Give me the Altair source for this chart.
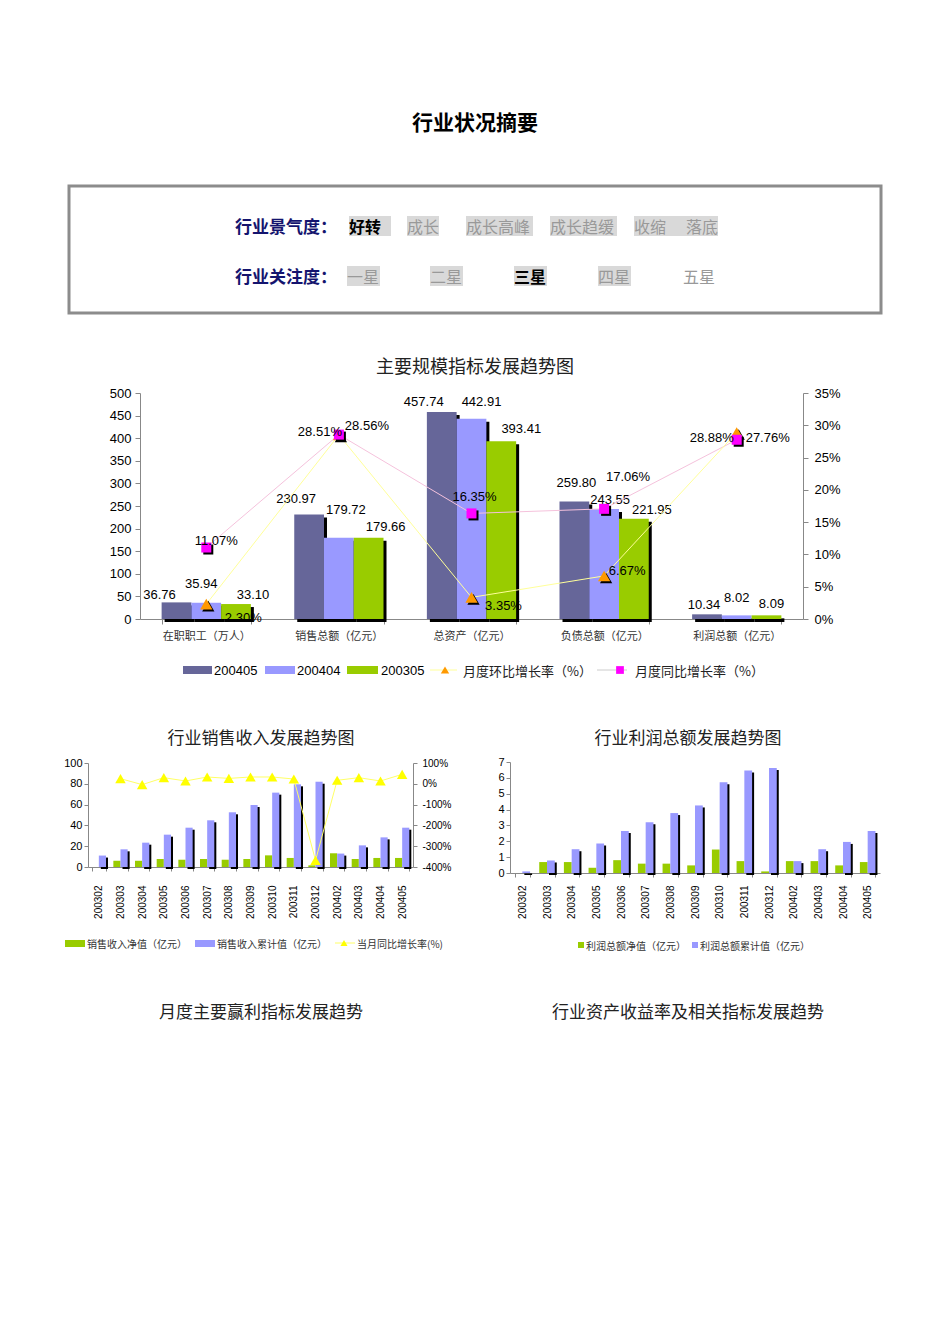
import altair as alt
import pandas as pd

CJK = "Noto Sans CJK SC"
LAT = "Liberation Sans"

# ---------------- data ----------------
page_title = "行业状况摘要"
climate_label = "行业景气度："
climate_items = ["好转", "成长", "成长高峰", "成长趋缓", "收缩", "落底"]
climate_current = "好转"
attention_label = "行业关注度："
attention_items = ["一星", "二星", "三星", "四星", "五星"]
attention_current = "三星"

main_title = "主要规模指标发展趋势图"
main_cats = ["在职职工（万人）", "销售总额（亿元）", "总资产（亿元）", "负债总额（亿元）", "利润总额（亿元）"]
main_series = ["200405", "200404", "200305"]
val_200405 = [36.76, 230.97, 457.74, 259.80, 10.34]
val_200404 = [35.94, 179.72, 442.91, 243.55, 8.02]
val_200305 = [33.10, 179.66, 393.41, 221.95, 8.09]
mom_rate = [2.30, 28.51, 3.35, 6.67, 28.88]    # 月度环比增长率（%）
yoy_rate = [11.07, 28.56, 16.35, 17.06, 27.76]  # 月度同比增长率（%）
main_left_ticks = [0, 50, 100, 150, 200, 250, 300, 350, 400, 450, 500]
main_right_ticks = [0, 5, 10, 15, 20, 25, 30, 35]
main_legend = ["200405", "200404", "200305", "月度环比增长率（%）", "月度同比增长率（%）"]

months = ["200302", "200303", "200304", "200305", "200306", "200307", "200308",
          "200309", "200310", "200311", "200312", "200402", "200403", "200404", "200405"]
sales_title = "行业销售收入发展趋势图"
sales_net = [None, 6.0, 6.0, 7.7, 7.0, 7.7, 7.0, 7.7, 11.2, 8.7, 1.6, 13.2, 7.7, 8.7, 8.7]
sales_cum = [11.0, 17.0, 23.4, 31.1, 37.8, 44.9, 52.6, 59.6, 71.5, 79.5, 82.0, 12.9, 20.8, 28.5, 37.8]
sales_yoy = [None, 24.7, -4.0, 29.5, 13.5, 32.7, 26.0, 32.7, 32.7, 23.0, -368.0, 16.7, 29.5, 13.5, 45.5]
sales_left_ticks = [0, 20, 40, 60, 80, 100]
sales_right_ticks = [-400, -300, -200, -100, 0, 100]
sales_legend = ["销售收入净值（亿元）", "销售收入累计值（亿元）", "当月同比增长率(%)"]

profit_title = "行业利润总额发展趋势图"
profit_net = [None, 0.69, 0.69, 0.33, 0.81, 0.59, 0.59, 0.48, 1.48, 0.75, 0.10, 0.75, 0.75, 0.48, 0.69]
profit_cum = [0.10, 0.79, 1.50, 1.86, 2.65, 3.20, 3.78, 4.26, 5.72, 6.46, 6.62, 0.75, 1.50, 1.96, 2.65]
profit_ticks = [0, 1, 2, 3, 4, 5, 6, 7]
profit_legend = ["利润总额净值（亿元）", "利润总额累计值（亿元）"]

footer_titles = ["月度主要赢利指标发展趋势", "行业资产收益率及相关指标发展趋势"]

# ---------------- styles (label nudges, colours, layout) ----------------
bar_label_dx = [-17, -13, -18, 2, -3, -5, 7, 10, 6, 0, 17, 17, 20, 18, 5]
bar_label_dy = [-7, -16, -10, -19, -9, -19, -28, -17, -9, -17, -9, -11, -12, -9, -11]
rate_label_dx = [37, -19, 32, 23, -25, 10, 28, 3, 24, 31]
rate_label_dy = [14, -3, 9, -5, 5, -7, -9, -16, -32, -2]
BAR_COLORS = ["#666699", "#9999FF", "#99CC00"]
GREEN, BLUE = "#99CC00", "#9999FF"
ORANGE, MAGENTA = "#FF9900", "#FF00FF"
AXIS_GREY = "#888888"

W, H = 934, 1328           # whole page (inside the 8px body margin)
RB, RC, RD = 337, 692, 967  # top of the main chart, small charts, footer
ONE = pd.DataFrame({"k": [0]})


def text_at(s, x, y, size=12, color="#000000", weight="normal", font=CJK, align="center"):
    nudge = 2 if font == CJK else 1
    return alt.Chart(pd.DataFrame({"t": [s]})).mark_text(
        font=font, fontSize=size, color=color, fontWeight=weight, align=align, baseline="middle"
    ).encode(x=alt.value(x), y=alt.value(y + nudge), text="t:N")


def rect_at(x1, x2, y1, y2, fill, stroke=None, sw=0):
    kw = dict(fill=fill)
    if stroke:
        kw.update(stroke=stroke, strokeWidth=sw)
    return alt.Chart(ONE).mark_rect(**kw).encode(
        x=alt.value(x1), x2=alt.value(x2), y=alt.value(y1), y2=alt.value(y2))


def rule_at(x1, x2, y, color, width=1):
    return alt.Chart(ONE).mark_rule(color=color, strokeWidth=width).encode(
        x=alt.value(x1), x2=alt.value(x2), y=alt.value(y))


def point_at(x, y, shape, size, color):
    return alt.Chart(ONE).mark_point(shape=shape, size=size, filled=True, color=color, opacity=1).encode(
        x=alt.value(x), y=alt.value(y))


layers = []

# ================= header =================
clim_bg = [(341, 383), (399, 431), (458, 525), (542, 609), (626, 710)]
clim_x = [341, 399, 458, 542, 626, 678]
att_bg = [(339, 372), (422, 455), (506, 539), (590, 623)]
att_x = [339, 422, 506, 590, 675]

layers += [
    text_at(page_title, 467, 114, size=21, weight="bold"),
    rect_at(61, 873, 178, 305, "#FFFFFF", stroke="#8C8C8C", sw=3),
    text_at(climate_label, 227, 218, size=17, weight="bold", color="#14146E", align="left"),
    text_at(attention_label, 227, 268, size=17, weight="bold", color="#14146E", align="left"),
]
for (x1, x2) in clim_bg:
    layers.append(rect_at(x1, x2, 208, 228, "#D9D9D9"))
for (x1, x2) in att_bg:
    layers.append(rect_at(x1, x2, 258, 278, "#D9D9D9"))
for s, x in zip(climate_items, clim_x):
    cur = s == climate_current
    layers.append(text_at(s, x, 218, size=16, align="left",
                          color="#000000" if cur else "#999999", weight="bold" if cur else "normal"))
for s, x in zip(attention_items, att_x):
    cur = s == attention_current
    layers.append(text_at(s, x, 268, size=16, align="left",
                          color="#000000" if cur else "#999999", weight="bold" if cur else "normal"))

# ================= main chart =================
bars_df = pd.DataFrame({
    "cat": main_cats * 3,
    "series": [s for s in main_series for _ in main_cats],
    "value": val_200405 + val_200404 + val_200305,
})
bars_df["label"] = bars_df["value"].map(lambda v: f"{v:.2f}")
bars_df["dx"] = bar_label_dx
bars_df["dy"] = bar_label_dy

rates_df = pd.DataFrame({
    "cat": main_cats * 2,
    "idx": list(range(5)) * 2,
    "kind": ["mom"] * 5 + ["yoy"] * 5,
    "rate": mom_rate + yoy_rate,
})
rates_df["label"] = rates_df["rate"].map(lambda v: f"{v:.2f}%")
rates_df["dx"] = rate_label_dx
rates_df["dy"] = rate_label_dy
mom_df = rates_df[rates_df["kind"] == "mom"]
yoy_df = rates_df[rates_df["kind"] == "yoy"]

MB0, MB1 = RB + 274, RB + 48   # main plot bottom / top


def main_x(shift=0, axis=None):
    return alt.X("cat:N", scale=alt.Scale(domain=main_cats, range=[132 + shift, 795 + shift],
                                          paddingInner=0.327, paddingOuter=0.163), axis=axis)


def main_xoff():
    return alt.XOffset("series:N", scale=alt.Scale(domain=main_series))


def main_y(shift=0, axis=None):
    return alt.Y("value:Q", scale=alt.Scale(domain=[0, 500], range=[MB0 + shift, MB1 + shift], nice=False),
                 axis=axis)


def pct_y(shift=0, axis=None):
    return alt.Y("rate:Q", scale=alt.Scale(domain=[0, 35], range=[MB0 + shift, MB1 + shift], nice=False),
                 axis=axis)


x_axis_main = alt.Axis(title=None, orient="bottom", offset=MB0 - H, labelFont=CJK, labelFontSize=11,
                       labelColor="#333333", domainColor=AXIS_GREY, tickColor=AXIS_GREY, tickSize=5,
                       tickBand="extent", labelPadding=6, labelAngle=0, grid=False)
y_axis_main = alt.Axis(title=None, orient="left", offset=-132, values=main_left_ticks, labelFont=LAT,
                       labelFontSize=13, labelColor="#000000", domainColor=AXIS_GREY, tickColor=AXIS_GREY,
                       tickSize=5, labelPadding=4, grid=False)
y_axis_pct = alt.Axis(title=None, orient="right", offset=795 - W, values=main_right_ticks, labelFont=LAT,
                      labelFontSize=13, labelColor="#000000", domainColor=AXIS_GREY, tickColor=AXIS_GREY,
                      tickSize=5, labelPadding=6, grid=False, labelExpr="datum.value + '%'")

layers += [
    alt.Chart(bars_df).mark_bar(color="#000000").encode(
        x=main_x(3), xOffset=main_xoff(), y=main_y(3), y2=alt.value(MB0)),
    alt.Chart(bars_df).mark_bar().encode(
        x=main_x(0, x_axis_main), xOffset=main_xoff(), y=main_y(0, y_axis_main),
        color=alt.Color("series:N", scale=alt.Scale(domain=main_series, range=BAR_COLORS), legend=None)),
    alt.Chart(bars_df).mark_text(font=LAT, fontSize=13, color="#000000",
                                 dx=alt.ExprRef(expr="datum.dx"), dy=alt.ExprRef(expr="datum.dy")).encode(
        x=main_x(), xOffset=main_xoff(), y=main_y(), text="label:N"),
    alt.Chart(yoy_df).mark_line(color="#F5C2DC", strokeWidth=1).encode(
        x=main_x(), y=pct_y(0, y_axis_pct), order="idx:Q"),
    alt.Chart(mom_df).mark_line(color="#FFFF99", strokeWidth=1).encode(
        x=main_x(), y=pct_y(), order="idx:Q"),
    alt.Chart(mom_df).mark_point(shape="triangle-up", size=150, filled=True, color="#000000", opacity=1).encode(
        x=main_x(2), y=pct_y(2)),
    alt.Chart(mom_df).mark_point(shape="triangle-up", size=150, filled=True, color=ORANGE, opacity=1).encode(
        x=main_x(), y=pct_y()),
    alt.Chart(yoy_df).mark_point(shape="square", size=100, filled=True, color="#000000", opacity=1).encode(
        x=main_x(2), y=pct_y(2)),
    alt.Chart(yoy_df).mark_point(shape="square", size=100, filled=True, color=MAGENTA, opacity=1).encode(
        x=main_x(), y=pct_y()),
    alt.Chart(rates_df).mark_text(font=LAT, fontSize=13, color="#000000",
                                  dx=alt.ExprRef(expr="datum.dx"), dy=alt.ExprRef(expr="datum.dy")).encode(
        x=main_x(), y=pct_y(), text="label:N"),
    text_at(main_title, 467, RB + 21, size=18, color="#222222"),
]
LY = RB + 325
sw_x = [(175, 204), (257, 287), (339, 370)]
txt_x = [206, 289, 373]
for i in range(3):
    layers.append(rect_at(sw_x[i][0], sw_x[i][1], LY - 4, LY + 4, BAR_COLORS[i]))
    layers.append(text_at(main_legend[i], txt_x[i], LY, size=13, font=LAT, align="left"))
layers += [
    rule_at(422, 449, LY, "#FFFF99", 1),
    point_at(437, LY, "triangle-up", 70, ORANGE),
    text_at(main_legend[3], 455, LY, size=13, align="left", color="#222222"),
    rule_at(589, 619, LY, "#CCCCCC", 1),
    point_at(612, LY, "square", 60, MAGENTA),
    text_at(main_legend[4], 627, LY, size=13, align="left", color="#222222"),
]

# ================= small charts =================
kinds = ["net", "cum"]
sales_df = pd.DataFrame({
    "month": months * 2,
    "kind": ["net"] * len(months) + ["cum"] * len(months),
    "value": sales_net + sales_cum,
}).dropna()
sales_rate = pd.DataFrame({"month": months, "idx": list(range(len(months))), "rate": sales_yoy}).dropna()
profit_df = pd.DataFrame({
    "month": months * 2,
    "kind": ["net"] * len(months) + ["cum"] * len(months),
    "value": profit_net + profit_cum,
}).dropna()


def small_x(r0, r1, pi, po, shift=0, axis=None):
    return alt.X("month:N", scale=alt.Scale(domain=months, range=[r0 + shift, r1 + shift],
                                            paddingInner=pi, paddingOuter=po), axis=axis)


def small_xoff():
    return alt.XOffset("kind:N", scale=alt.Scale(domain=kinds))


def small_y(dom, rng, shift=0, axis=None, field="value"):
    return alt.Y(f"{field}:Q", scale=alt.Scale(domain=dom, range=[rng[0] + shift, rng[1] + shift], nice=False),
                 axis=axis)


bar_colors_small = alt.Color("kind:N", scale=alt.Scale(domain=kinds, range=[GREEN, BLUE]), legend=None)

SB0, SB1 = RC + 167, RC + 63
PB0, PB1 = RC + 173, RC + 62
S_X = (80, 405, 0.34, 0.17)
S_Y = ([0, 100], (SB0, SB1))
S_R = ([-400, 100], (SB0, SB1))
P_X = (502, 872, 0.37, 0.185)
P_Y = ([0, 7], (PB0, PB1))

s_xaxis = alt.Axis(title=None, orient="bottom", offset=SB0 - H, labelAngle=-90, labelFont=LAT, labelFontSize=10,
                   labelColor="#000000", domainColor=AXIS_GREY, tickColor=AXIS_GREY, tickSize=4,
                   tickBand="extent", labelPadding=14, grid=False)
s_yaxis = alt.Axis(title=None, orient="left", offset=-80, values=sales_left_ticks, labelFont=LAT,
                   labelFontSize=11, labelColor="#000000", domainColor=AXIS_GREY, tickColor=AXIS_GREY,
                   tickSize=4, labelPadding=2, grid=False)
s_raxis = alt.Axis(title=None, orient="right", offset=405 - W, values=sales_right_ticks, labelFont=LAT,
                   labelFontSize=10, labelColor="#000000", domainColor=AXIS_GREY, tickColor=AXIS_GREY,
                   tickSize=4, labelPadding=5, grid=False, labelExpr="datum.value + '%'")
p_xaxis = alt.Axis(title=None, orient="bottom", offset=PB0 - H, labelAngle=-90, labelFont=LAT, labelFontSize=10,
                   labelColor="#000000", domainColor=AXIS_GREY, tickColor=AXIS_GREY, tickSize=4,
                   tickBand="extent", labelPadding=8, grid=False)
p_yaxis = alt.Axis(title=None, orient="left", offset=-502, values=profit_ticks, labelFont=LAT,
                   labelFontSize=11, labelColor="#000000", domainColor=AXIS_GREY, tickColor=AXIS_GREY,
                   tickSize=4, labelPadding=2, grid=False)

SL = RC + 243
PL = RC + 245
layers += [
    # sales
    alt.Chart(sales_df[sales_df["kind"] == "cum"]).mark_bar(color="#000000").encode(
        x=small_x(*S_X, shift=2), xOffset=small_xoff(), y=small_y(*S_Y, shift=2), y2=alt.value(SB0)),
    alt.Chart(sales_df).mark_bar().encode(
        x=small_x(*S_X, axis=s_xaxis), xOffset=small_xoff(), y=small_y(*S_Y, axis=s_yaxis),
        color=bar_colors_small),
    alt.Chart(sales_rate).mark_line(color="#FFFF66", strokeWidth=1).encode(
        x=small_x(*S_X), y=small_y(*S_R, axis=s_raxis, field="rate"), order="idx:Q"),
    alt.Chart(sales_rate).mark_point(shape="triangle-up", size=110, filled=True, color="#FFFF00", opacity=1).encode(
        x=small_x(*S_X), y=small_y(*S_R, field="rate")),
    text_at(sales_title, 253, RC + 37, size=17, color="#222222"),
    rect_at(57, 77, SL - 3, SL + 4, GREEN),
    text_at(sales_legend[0], 79, SL, size=10, align="left", color="#333333"),
    rect_at(187, 207, SL - 3, SL + 4, BLUE),
    text_at(sales_legend[1], 209, SL, size=10, align="left", color="#333333"),
    rule_at(327, 347, SL, "#FFFF66", 1),
    point_at(336, SL, "triangle-up", 50, "#FFFF00"),
    text_at(sales_legend[2], 349, SL, size=10, align="left", color="#333333"),
    # profit
    alt.Chart(profit_df[profit_df["kind"] == "cum"]).mark_bar(color="#000000").encode(
        x=small_x(*P_X, shift=2), xOffset=small_xoff(), y=small_y(*P_Y, shift=2), y2=alt.value(PB0)),
    alt.Chart(profit_df).mark_bar().encode(
        x=small_x(*P_X, axis=p_xaxis), xOffset=small_xoff(), y=small_y(*P_Y, axis=p_yaxis),
        color=bar_colors_small),
    text_at(profit_title, 680, RC + 37, size=17, color="#222222"),
    rect_at(570, 576, PL - 3, PL + 3, GREEN),
    text_at(profit_legend[0], 578, PL, size=10, align="left", color="#333333"),
    rect_at(684, 690, PL - 3, PL + 3, BLUE),
    text_at(profit_legend[1], 692, PL, size=10, align="left", color="#333333"),
]

# ================= footer headings =================
layers += [
    text_at(footer_titles[0], 253, RD + 36, size=17, color="#222222"),
    text_at(footer_titles[1], 680, RD + 36, size=17, color="#222222"),
]

chart = alt.layer(*layers).resolve_scale(
    x="independent", y="independent", xOffset="independent", color="independent"
).properties(
    width=W, height=H, padding=0, background="white",
    autosize=alt.AutoSizeParams(type="none"),
).configure_view(stroke=None)

chart.save("out.html", embed_options={"renderer": "svg", "actions": False})
